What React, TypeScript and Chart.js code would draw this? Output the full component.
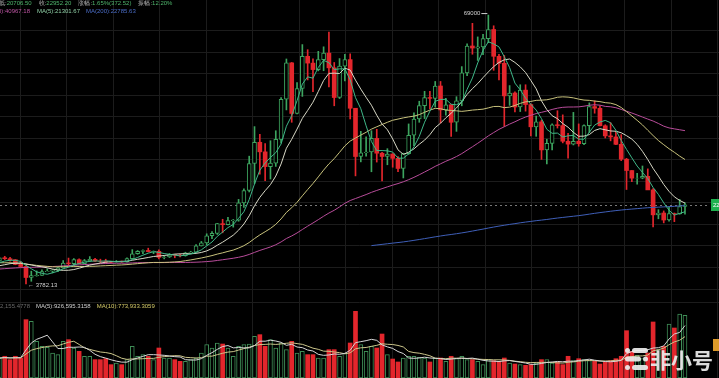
import React, { useEffect, useRef } from 'react';
import { Chart, registerables } from 'chart.js';

Chart.register(...registerables);

// Weekly closes before the visible window (BTC/USDT from 2017-08-14), only used for the moving averages
const priorCloses = [
  4090, 4350, 4600, 4200, 3700, 3650, 4400, 4600, 5700, 5950, 6150, 7400, 5900, 8000, 9300, 11200, 15000, 19100, 13800, 13800,
  16200, 13600, 11500, 11700, 8200, 8100, 10400, 9600, 11500, 9500, 8200, 8500, 6800, 7000, 8300, 8900, 9400, 9650, 8700, 8500,
  7350, 7700, 6800, 6450, 6150, 6400, 6750, 6350, 7400, 8200, 7000, 6300, 6400, 6700, 7250, 6250, 6500, 6700, 6600, 6600,
  6300, 6450, 6400, 6450, 6350, 5550, 4000, 4100, 3600, 3250, 4000, 3900,
  4050, 3500, 3550, 3550, 3400, 3650, 3650, 3850, 3800, 3900, 4000, 4000, 4100, 5200, 5100, 5300, 5200, 5750, 7000, 8200,
  8750, 8750, 7650, 8900, 10800, 10800, 11400, 10200, 10500, 9500, 10800, 11300, 10250, 10150, 10400, 10400, 10300, 10000, 8050, 7850,
  8300, 8200, 9550, 9200, 8800, 8500, 6900, 7400, 7500, 7100, 7500, 7400,
  7750, 8100, 8700, 8600, 9350,
];
const priorVolumes = [330, 360, 340, 380, 350, 330, 360, 370, 340];

// Visible weeks: 2020-02-03 ... 2022-07-25
const opens = [
  9350, 10150, 9920, 9660, 8530, 8030, 5360, 5820, 5880, 6780, 6900, 7120, 7690, 8880, 8720, 9680, 8720, 9450, 9750, 9330,
  9290, 9110, 9060, 9230, 9160, 9930, 11110, 11700, 11910, 11650, 11710, 10250, 10330, 10920, 10770, 10670, 11370, 11500, 13030, 13740,
  15480, 16070, 18410, 18180, 19150, 19270, 23470, 26450, 33000, 38150, 35830, 32260, 33090, 38870, 48580, 57410, 45140, 51200, 59000, 57350,
  55780, 58200, 59770, 56200, 49000, 56600, 58200, 46400, 34700, 35600, 35800, 39100, 35500, 34700, 35300, 34250, 31800, 35400, 39850, 43800,
  47050, 49000, 48800, 51800, 46000, 47250, 43000, 48200, 55000, 61500, 61000, 61300, 63300, 65500, 59000, 57300, 49400, 50100, 46700, 50800,
  47300, 41900, 43100, 36300, 37900, 42400, 42200, 38400, 37700, 38400, 37800, 42200, 46800, 46400, 42150, 39700, 39450, 37650, 34050, 31300,
  29450, 29450, 29900, 26600, 20550, 21000, 19300, 20850, 20800, 22579.68,
];
const highs = [
  10190, 10500, 10250, 9700, 9190, 8180, 6900, 6950, 7200, 7470, 7300, 7800, 9470, 10070, 9950, 9890, 9740, 10430, 9990, 9800,
  9790, 9300, 9480, 9350, 10150, 12120, 11900, 12090, 12470, 11800, 12090, 10580, 11180, 10990, 10950, 11490, 11720, 13350, 14100, 15960,
  16480, 18480, 19480, 19920, 19430, 24300, 26870, 34780, 41950, 40100, 37850, 38530, 40950, 49000, 58350, 57500, 52640, 61840, 60600, 58400,
  60200, 61300, 64850, 57500, 58450, 59500, 59600, 45800, 40800, 39450, 40950, 41300, 35700, 36600, 35400, 34700, 35500, 42600, 45300, 48100,
  50500, 50500, 52900, 52900, 48800, 47300, 49200, 56500, 62000, 67000, 63700, 64300, 69000, 66400, 59500, 59200, 51900, 50400, 52100, 52100,
  47500, 44500, 43500, 38900, 42600, 45800, 44800, 40300, 45400, 42600, 42400, 47700, 48200, 47000, 42400, 42900, 40800, 40000, 34250, 31300,
  30600, 32400, 31700, 26900, 21800, 21500, 22500, 21000, 24300, 23461,
];
const lows = [
  9100, 9700, 9300, 8450, 7850, 3782.13, 4440, 5670, 5860, 6760, 6470, 6800, 7640, 8120, 8200, 8700, 8630, 9270, 9200, 8970,
  8830, 8930, 9040, 9030, 9100, 9900, 11000, 11130, 11560, 11130, 9880, 9880, 10200, 10140, 10370, 10530, 11200, 11420, 12990, 13220,
  14800, 15790, 16200, 18110, 17570, 19000, 22350, 26100, 28130, 30420, 28850, 29240, 32300, 37990, 46000, 43000, 45000, 49270, 53270, 50400,
  55470, 55500, 51600, 47000, 48750, 53000, 43800, 30000, 33400, 34800, 31000, 33350, 28800, 32700, 32100, 31000, 29500, 35200, 37300, 43000,
  43900, 46250, 46700, 42800, 44700, 39600, 40800, 47000, 54300, 59500, 58000, 59400, 62300, 55600, 53250, 42000, 47100, 45500, 45600, 45700,
  39700, 39600, 34000, 32900, 36300, 41600, 38000, 34300, 37500, 37200, 37600, 40500, 45200, 42100, 39200, 38500, 37600, 33700, 26700, 28600,
  28000, 29300, 28800, 17600, 19600, 18600, 19000, 18900, 20700, 20706.5,
];
const closes = [
  10150, 9920, 9660, 8530, 8030, 5360, 5820, 5880, 6780, 6900, 7120, 7690, 8880, 8720, 9680, 8720, 9450, 9750, 9330, 9290,
  9110, 9060, 9230, 9160, 9930, 11110, 11700, 11910, 11650, 11710, 10250, 10330, 10920, 10770, 10670, 11370, 11500, 13030, 13740, 15480,
  16070, 18410, 18180, 19150, 19270, 23470, 26450, 33000, 38150, 35830, 32260, 33090, 38870, 48580, 57410, 45140, 51200, 59000, 57350, 55780,
  58200, 59770, 56200, 49000, 56600, 58200, 46400, 34700, 35600, 35800, 39100, 35500, 34700, 35300, 34250, 31800, 35400, 39850, 43800, 47050,
  49000, 48800, 51800, 46000, 47250, 43000, 48200, 55000, 61500, 61000, 61300, 63300, 65500, 59000, 57300, 49400, 50100, 46700, 50800, 47300,
  41900, 43100, 36300, 37900, 42400, 42200, 38400, 37700, 38400, 37800, 42200, 46800, 46400, 42150, 39700, 39450, 37650, 34050, 31300, 29450,
  29470, 29900, 26600, 20550, 21000, 19300, 20850, 20800, 22579.68, 22952.2,
];
// weekly volume, thousands
const volumes = [
  352, 382, 323, 382, 352, 1027, 997, 645, 557, 540, 440, 411, 645, 675, 528, 469, 382, 382, 323, 323,
  340, 235, 264, 235, 323, 557, 382, 411, 382, 323, 528, 352, 352, 323, 293, 293, 323, 352, 440, 587,
  528, 616, 598, 528, 382, 557, 587, 598, 733, 763, 557, 675, 528, 616, 499, 645, 440, 469, 411, 411,
  352, 352, 499, 499, 382, 440, 616, 1173, 587, 469, 557, 528, 774, 411, 334, 282, 352, 382, 382, 364,
  352, 282, 352, 352, 293, 382, 340, 382, 323, 323, 293, 235, 323, 305, 293, 352, 264, 246, 235, 223,
  235, 264, 323, 323, 264, 282, 235, 382, 305, 340, 323, 305, 293, 246, 282, 305, 340, 382, 833, 469,
  400, 340, 440, 986, 499, 557, 950, 880, 1126, 1103,
];

const LEGEND_PRICE = [
  { label: '低:', value: '20706.50' },
  { label: '收:', value: '22952.20' },
  { label: '涨幅:', value: '1.65%(372.52)' },
  { label: '振幅:', value: '12.20%' },
];
const LEGEND_MA_CUT = 'MA(60):40967.18';
const LEGEND_MA = ['MA(5):21301.67', 'MA(200):22785.63'];
const LEGEND_VOL_CUT = 'VOL:1,102,155.4778';
const LEGEND_VOL = ['MA(5):926,595.3158', 'MA(10):773,933.3059'];

const RED = '#e3262c';
const GREEN = '#3da45f';
const VGREEN = '#3f8e57';
const GRID = '#1c1c1c';
const FONT = '"Liberation Sans", Arial, sans-serif';

export default function App() {
  const ref = useRef<HTMLCanvasElement>(null);

  useEffect(() => {
    const canvas = ref.current;
    if (!canvas) return;
    const n = closes.length;
    const allC = priorCloses.concat(closes);
    const offC = priorCloses.length;
    const allV = priorVolumes.concat(volumes);
    const offV = priorVolumes.length;
    const ma = (src: number[], off: number, p: number) => {
      const pts: { x: number; y: number }[] = [];
      for (let i = 0; i < n; i++) {
        const j = i + off;
        if (j - p + 1 < 0) continue;
        let s = 0;
        for (let k = j - p + 1; k <= j; k++) s += src[k];
        pts.push({ x: i, y: s / p });
      }
      return pts;
    };
    const up = closes.map((c, i) => c >= opens[i]);
    const idx = closes.map((_, i) => i);

    const lineDs = (data: any[], color: string, axis: string) => ({
      type: 'line' as const,
      data,
      yAxisID: axis,
      borderColor: color,
      borderWidth: 1,
      pointRadius: 0,
      tension: 0,
      fill: false,
      order: -1,
    });

    const overlay = {
      id: 'overlay',
      beforeDatasetsDraw(chart: any) {
        const ctx = chart.ctx;
        const W = chart.width;
        const H = chart.height;
        ctx.save();
        ctx.strokeStyle = GRID;
        ctx.lineWidth = 1;
        for (let gx = 19.5; gx < W; gx += 46.5) {
          const x = Math.round(gx) + 0.5;
          ctx.beginPath(); ctx.moveTo(x, 0); ctx.lineTo(x, H); ctx.stroke();
        }
        const rows = [30, 51.5, 73, 94.5, 116, 137.5, 159, 180.5, 202, 223.5, 245, 266.5, 289, 302];
        for (const gy of rows) {
          const y = Math.round(gy) + 0.5;
          ctx.beginPath(); ctx.moveTo(0, y); ctx.lineTo(W, y); ctx.stroke();
        }
        // last price dashed line
        const yC = chart.scales.y.getPixelForValue(closes[n - 1]);
        ctx.strokeStyle = 'rgba(150,150,150,0.8)';
        ctx.setLineDash([2, 3]);
        ctx.beginPath(); ctx.moveTo(0, Math.round(yC) + 0.5); ctx.lineTo(710, Math.round(yC) + 0.5); ctx.stroke();
        ctx.setLineDash([]);
        ctx.restore();
      },
      afterDraw(chart: any) {
        const ctx = chart.ctx;
        const xs = chart.scales.x;
        const ys = chart.scales.y;
        ctx.save();
        ctx.textBaseline = 'middle';
        ctx.font = `6px ${FONT}`;
        // price legend
        let x = -1;
        for (const seg of LEGEND_PRICE) {
          ctx.fillStyle = '#b8b8b8';
          ctx.fillText(seg.label, x, 3.5);
          x += ctx.measureText(seg.label).width;
          ctx.fillStyle = '#4fb56c';
          ctx.fillText(seg.value, x, 3.5);
          x += ctx.measureText(seg.value).width + 7;
        }
        // MA legend
        ctx.fillStyle = '#bd55a3';
        ctx.fillText(LEGEND_MA_CUT, 30 - ctx.measureText(LEGEND_MA_CUT).width, 11.5);
        x = 37;
        ctx.fillStyle = '#8fcfa5';
        ctx.fillText(LEGEND_MA[0], x, 11.5);
        x += ctx.measureText(LEGEND_MA[0]).width + 6;
        ctx.fillStyle = '#4a6cc6';
        ctx.fillText(LEGEND_MA[1], x, 11.5);
        // volume legend
        ctx.fillStyle = '#6a6a6a';
        ctx.fillText(LEGEND_VOL_CUT, 30 - ctx.measureText(LEGEND_VOL_CUT).width, 306.5);
        x = 36;
        ctx.fillStyle = '#d0d0d0';
        ctx.fillText(LEGEND_VOL[0], x, 306.5);
        x += ctx.measureText(LEGEND_VOL[0]).width + 6;
        ctx.fillStyle = '#d6cc6a';
        ctx.fillText(LEGEND_VOL[1], x, 306.5);

        // high / low marks
        let hi = 0, lo = 0;
        highs.forEach((h, i) => { if (h > highs[hi]) hi = i; });
        lows.forEach((l, i) => { if (l < lows[lo]) lo = i; });
        ctx.fillStyle = '#d0d0d0';
        ctx.strokeStyle = '#d0d0d0';
        ctx.lineWidth = 1;
        const hx = xs.getPixelForValue(hi);
        const hy = ys.getPixelForValue(highs[hi]) - 2;
        const hText = String(Math.round(highs[hi]));
        ctx.fillText(hText, hx - 8 - ctx.measureText(hText).width, hy);
        ctx.beginPath(); ctx.moveTo(hx - 7, hy + 0.5); ctx.lineTo(hx - 1, hy + 0.5); ctx.stroke();
        const lx = xs.getPixelForValue(lo);
        const ly = ys.getPixelForValue(lows[lo]) + 1.5;
        ctx.fillText('← ' + lows[lo].toFixed(2), lx + 2, ly);

        // last price tag
        const yC = ys.getPixelForValue(closes[n - 1]);
        ctx.fillStyle = '#1fb04e';
        ctx.fillRect(711, Math.round(yC) - 6, 10, 12);
        ctx.fillStyle = '#ffffff';
        ctx.fillText(closes[n - 1].toFixed(2), 713, yC);
        // volume tag
        ctx.fillStyle = '#dc9a2a';
        ctx.fillRect(713, 339, 8, 12);

        // watermark
        ctx.fillStyle = 'rgba(236,236,236,0.93)';
        const rr = (x0: number, y0: number, w: number, h: number) => {
          const r = h / 2;
          ctx.beginPath();
          ctx.moveTo(x0 + r, y0);
          ctx.lineTo(x0 + w - r, y0);
          ctx.arc(x0 + w - r, y0 + r, r, -Math.PI / 2, Math.PI / 2);
          ctx.lineTo(x0 + r, y0 + h);
          ctx.arc(x0 + r, y0 + r, r, Math.PI / 2, Math.PI * 1.5);
          ctx.closePath();
          ctx.fill();
        };
        rr(625, 348, 5, 5); rr(632, 348, 16, 5);
        rr(625, 356.5, 16, 5); rr(643, 356.5, 5, 5);
        rr(625, 365, 5, 5); rr(632, 365, 16, 5);
        ctx.font = `bold 21px "Noto Sans CJK SC", sans-serif`;
        ctx.textBaseline = 'alphabetic';
        ctx.fillText('非小号', 650, 368);
        ctx.restore();
      },
    };

    const chart = new Chart(canvas, {
      type: 'bar',
      data: {
        datasets: [
          lineDs(ma(allC, offC, 5), '#3fb889', 'y'),
          lineDs(ma(allC, offC, 10), '#d8d8c6', 'y'),
          lineDs(ma(allC, offC, 30), '#c8c27c', 'y'),
          lineDs(ma(allC, offC, 60), '#b84c9a', 'y'),
          lineDs(ma(allC, offC, 200), '#3f5fb8', 'y'),
          lineDs(ma(allV, offV, 5), '#d6d6d6', 'yv'),
          lineDs(ma(allV, offV, 10), '#cbc58a', 'yv'),
          {
            type: 'bar' as const,
            data: idx.map((i) => ({ x: i, y: [opens[i], closes[i]] })),
            yAxisID: 'y',
            grouped: false,
            barThickness: 4,
            backgroundColor: up.map((u) => (u ? '#000000' : RED)),
            borderColor: up.map((u) => (u ? GREEN : RED)),
            borderWidth: up.map((u) => (u ? 1 : 0)),
            borderSkipped: false,
            order: 1,
          },
          {
            type: 'bar' as const,
            data: idx.map((i) => ({ x: i, y: [lows[i], highs[i]] })),
            yAxisID: 'y',
            grouped: false,
            barThickness: 1,
            backgroundColor: up.map((u) => (u ? GREEN : RED)),
            borderWidth: 0,
            order: 2,
          },
          {
            type: 'bar' as const,
            data: idx.map((i) => ({ x: i, y: volumes[i] })),
            yAxisID: 'yv',
            grouped: false,
            barThickness: 4,
            backgroundColor: up.map((u) => (u ? '#000000' : RED)),
            borderColor: up.map((u) => (u ? VGREEN : RED)),
            borderWidth: up.map((u) => (u ? 1 : 0)),
            borderSkipped: false,
            order: 3,
          },
        ] as any,
      },
      options: {
        animation: false,
        responsive: false,
        events: [],
        layout: { padding: 0 },
        plugins: { legend: { display: false }, tooltip: { enabled: false } },
        scales: {
          x: { type: 'linear', min: 0.108, max: 135.4, offset: false, display: false },
          y: { type: 'linear', min: -19013, max: 72653, display: false },
          yv: { type: 'linear', min: 0, max: 6653, display: false },
        },
      } as any,
      plugins: [overlay],
    });
    return () => chart.destroy();
  }, []);

  return (
    <div style={{ position: 'fixed', left: 0, top: 0, width: 719, height: 378, background: '#000' }}>
      <canvas ref={ref} width={719} height={378} style={{ display: 'block' }} />
    </div>
  );
}
